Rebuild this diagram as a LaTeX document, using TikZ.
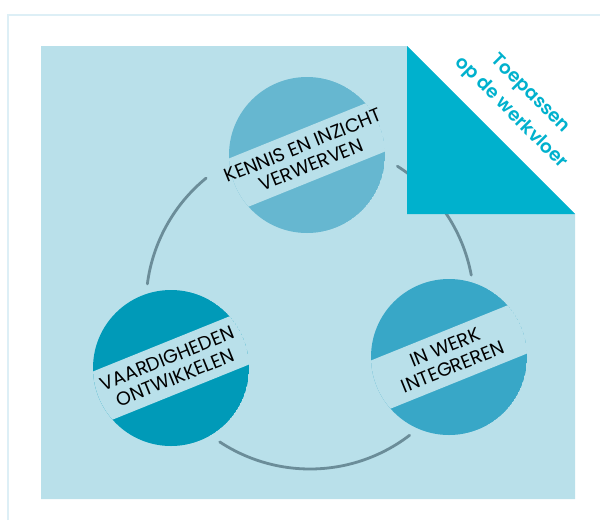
\documentclass[tikz,border=0pt]{standalone}
\usepackage{fontspec}
\setmainfont{Poppins}
\newfontfamily\headfont{Poppins}[UprightFont=* SemiBold]
\definecolor{panel}{HTML}{B9E0EA}
\definecolor{framecol}{HTML}{DDEFF6}
\definecolor{ringcol}{HTML}{6B8D99}
\definecolor{kenniscol}{HTML}{66B7D0}
\definecolor{vaardcol}{HTML}{009AB8}
\definecolor{werkcol}{HTML}{38A7C7}
\definecolor{cornercol}{HTML}{00B1CD}
\tikzset{
  ring/.style={ringcol, line width=2.8pt, line cap=round},
  hublabel/.style={font=\fontsize{19}{21}\selectfont, text=black, align=center, inner sep=0pt, rotate=22},
  cornerlabel/.style={font=\headfont\fontsize{18.5}{27}\selectfont, text=cornercol, align=center, inner sep=0pt, rotate=-45}
}
% one disc of the cycle: name, x, y, fill colour, label
\newcommand\cyclehub[5]{%
  \begin{scope}
    \clip (#2,#3) circle[radius=78];
    \fill[#4] (#2,#3) circle[radius=78];
    \fill[panel, rotate around={22:(#2,#3)}] (#2-100,#3-26) rectangle (#2+100,#3+26);
  \end{scope}
  \node[hublabel] (#1) at (#2,#3) {#5};
}
\begin{document}
\begin{tikzpicture}[x=1pt,y=-1pt]
  \useasboundingbox (0,0) rectangle (600,520);
  % outer frame
  \draw[framecol, line width=1.2pt] (8,520) -- (8,15) -- (600,15);
  % panel with its top right corner cut off
  \fill[panel] (41,46) -- (407,46) -- (575,214) -- (575,499) -- (41,499) -- cycle;
  % the ring joining the three discs
  \coordinate (mid) at (310,305);
  \draw[ring] (mid) ++(-129.3:164) arc[start angle=-129.3, end angle=-172.6, radius=164];
  \draw[ring] (mid) ++(-10.5:164) arc[start angle=-10.5, end angle=-57.8, radius=164];
  \draw[ring] (mid) ++(123.4:164) arc[start angle=123.4, end angle=52.6, radius=164];
  % corner triangle
  \fill[cornercol] (407,46) -- (407,214) -- (575,214) -- cycle;
  \node[cornerlabel] (corner) at (520,104) {Toepassen\\op de werkvloer};
  % discs
  \cyclehub{kennis}{307}{155}{kenniscol}{KENNIS EN INZICHT\\VERWERVEN}
  \cyclehub{vaardig}{171}{368}{vaardcol}{VAARDIGHEDEN\\ONTWIKKELEN}
  \cyclehub{werk}{449}{357}{werkcol}{IN WERK\\INTEGREREN}
\end{tikzpicture}
\end{document}
